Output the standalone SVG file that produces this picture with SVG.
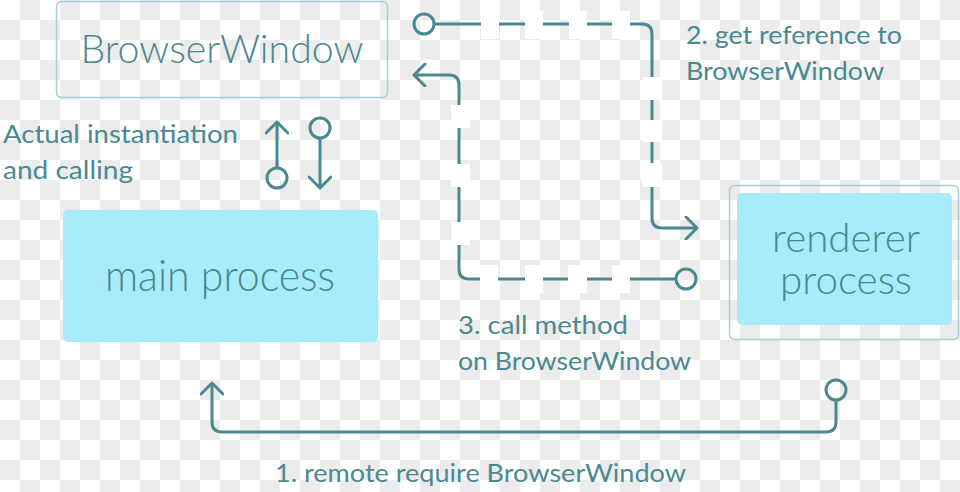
<svg xmlns="http://www.w3.org/2000/svg" width="960" height="492" viewBox="0 0 960 492">
<defs>
<pattern id="checker" x="0" y="0" width="40" height="40" patternUnits="userSpaceOnUse">
<rect width="40" height="40" fill="#ffffff"/>
<rect x="20" y="0" width="20" height="20" fill="#ececec"/>
<rect x="0" y="20" width="20" height="20" fill="#ececec"/>
</pattern>
<marker id="arr" viewBox="0 0 24 24" refX="20" refY="12" markerWidth="24" markerHeight="24" markerUnits="userSpaceOnUse" orient="auto">
<path d="M9,1 L20,12 L9,23" fill="none" stroke="#4a8992" stroke-width="3" stroke-linecap="round" stroke-linejoin="round"/>
</marker>
</defs>
<style>
.line{fill:none;stroke:#4a8992;stroke-width:3;stroke-linecap="round"}
.dot{fill:none;stroke:#4a8992;stroke-width:3}
.gap{fill:#ffffff}
.frame{fill:none;stroke:#a9cfd4;stroke-width:1.5}
.fillbox{fill:#a7ecf8}
.lbl{font-family:Lato,"Liberation Sans",sans-serif;font-size:25px;fill:#4a8992}
.big{font-family:Lato,"Liberation Sans",sans-serif;font-weight:300;fill:#4a8790;text-anchor:middle}
</style>
<rect width="960" height="492" fill="url(#checker)"/>

<g id="browserwindow">
<rect class="frame" x="56.5" y="1.5" width="331" height="96" rx="5"/>
<text class="big" x="222" y="63" font-size="40" textLength="283" lengthAdjust="spacingAndGlyphs">BrowserWindow</text>
</g>

<g id="main-process">
<rect class="fillbox" x="63" y="210" width="315" height="132" rx="5"/>
<text class="big" x="220" y="291" font-size="43" textLength="230" lengthAdjust="spacingAndGlyphs">main process</text>
</g>

<g id="renderer-process">
<rect class="frame" x="729.5" y="185.5" width="229" height="154" rx="5"/>
<rect class="fillbox" x="737" y="193" width="215" height="132" rx="5"/>
<text class="big" x="846" y="252" font-size="40" textLength="148" lengthAdjust="spacingAndGlyphs">renderer</text>
<text class="big" x="846" y="294" font-size="40" textLength="132" lengthAdjust="spacingAndGlyphs">process</text>
</g>

<g id="connectors">
<!-- 2. get reference -->
<path class="line" d="M434,24 H642 Q652,24 652,34 V218 Q652,228 662,228 H697" marker-end="url(#arr)"/>
<circle class="dot" cx="424" cy="24" r="10"/>
<rect class="gap" x="481" y="11" width="18" height="28"/>
<rect class="gap" x="525" y="11" width="18" height="28"/>
<rect class="gap" x="569" y="11" width="18" height="28"/>
<rect class="gap" x="612" y="11" width="18" height="28"/>
<rect class="gap" x="642" y="77" width="20" height="23"/>
<rect class="gap" x="642" y="120" width="20" height="22"/>
<rect class="gap" x="642" y="163" width="20" height="24"/>

<!-- 3. call method -->
<path class="line" d="M676,279 H469 Q459,279 459,269 V85 Q459,75 449,75 H414" marker-end="url(#arr)"/>
<circle class="dot" cx="686" cy="279" r="10"/>
<rect class="gap" x="451" y="105" width="19" height="23"/>
<rect class="gap" x="451" y="164" width="19" height="23"/>
<rect class="gap" x="451" y="222" width="19" height="23"/>
<rect class="gap" x="480" y="265" width="18" height="28"/>
<rect class="gap" x="525" y="265" width="18" height="28"/>
<rect class="gap" x="568" y="265" width="19" height="28"/>
<rect class="gap" x="612" y="265" width="18" height="28"/>

<!-- actual instantiation -->
<path class="line" d="M277,168 V122" marker-end="url(#arr)"/>
<circle class="dot" cx="277" cy="178" r="10"/>
<path class="line" d="M320,138 V188" marker-end="url(#arr)"/>
<circle class="dot" cx="320" cy="128" r="10"/>

<!-- 1. remote require -->
<path class="line" d="M836,400 V422 Q836,432 826,432 H222 Q212,432 212,422 V383" marker-end="url(#arr)"/>
<circle class="dot" cx="836" cy="390" r="10"/>
</g>

<g id="labels">
<text class="lbl" x="3" y="143" textLength="235" lengthAdjust="spacingAndGlyphs">Actual instantiation</text>
<text class="lbl" x="3" y="179" textLength="130" lengthAdjust="spacingAndGlyphs">and calling</text>
<text class="lbl" x="686" y="44" textLength="216" lengthAdjust="spacingAndGlyphs">2. get reference to</text>
<text class="lbl" x="686" y="80" textLength="198" lengthAdjust="spacingAndGlyphs">BrowserWindow</text>
<text class="lbl" x="458" y="334" textLength="170" lengthAdjust="spacingAndGlyphs">3. call method</text>
<text class="lbl" x="458" y="370" textLength="233" lengthAdjust="spacingAndGlyphs">on BrowserWindow</text>
<text class="lbl" x="275" y="482" textLength="411" lengthAdjust="spacingAndGlyphs">1. remote require BrowserWindow</text>
</g>
</svg>
